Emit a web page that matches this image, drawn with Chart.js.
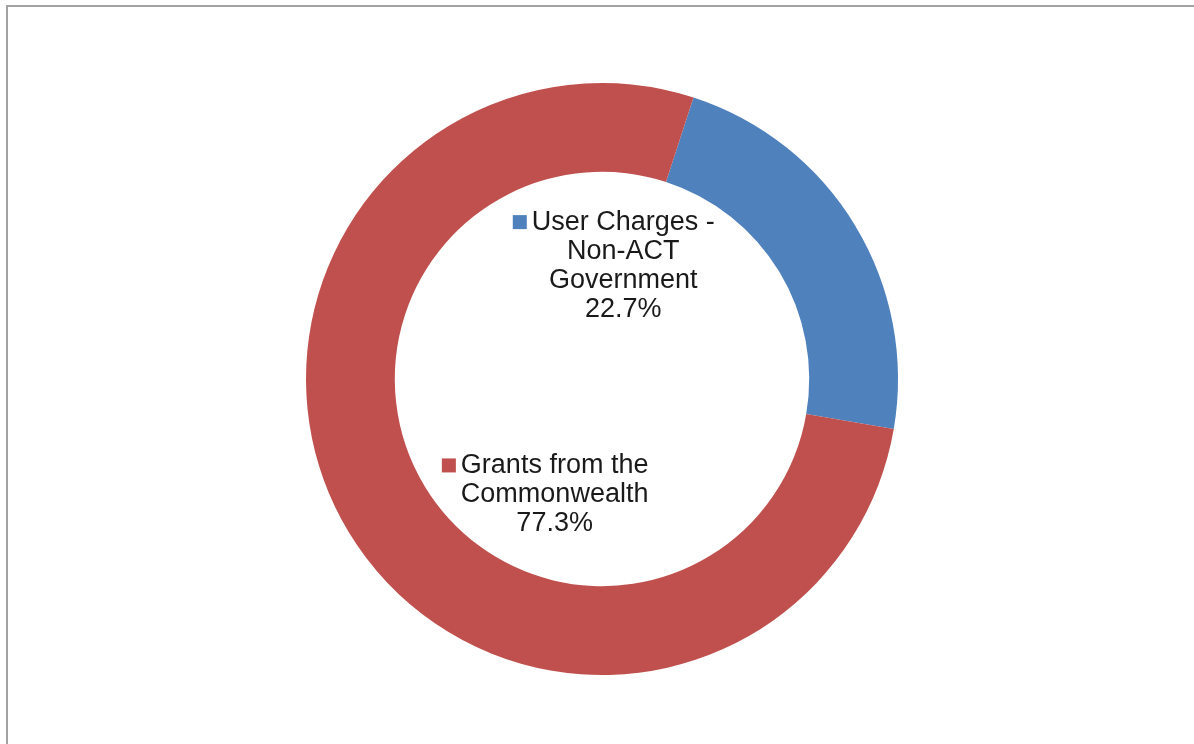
<!DOCTYPE html>
<html>
<head>
<meta charset="utf-8">
<script src="https://cdn.jsdelivr.net/npm/chart.js@4"></script>
<style>
  html, body { margin: 0; padding: 0; background: #fff; overflow: hidden; }
  #frame { position: absolute; left: 6px; top: 5px; width: 1200px; height: 760px; border: 2px solid #a3a3a3; box-sizing: border-box; }
  #wrap { position: absolute; left: 0; top: 0; width: 1194px; height: 744px; }
</style>
</head>
<body>
<div id="frame"></div>
<div id="wrap"><canvas id="myChart"></canvas></div>
<script>
const labels = ['User Charges - Non-ACT Government', 'Grants from the Commonwealth'];
const shares = [22.7, 77.3];
const colors = ['rgb(79, 129, 189)', 'rgb(192, 80, 77)'];

// label text lines, as wrapped in the original
const labelLines = [
  ['User Charges -', 'Non-ACT', 'Government'],
  ['Grants from the', 'Commonwealth']
];
// where each label block sits, relative to centre, in units of outer radius
const labelAnchor = [
  { dx: 0.072, dy: -0.53 },
  { dx: -0.16, dy: 0.292 }
];

const sliceLabels = {
  id: 'sliceLabels',
  afterDatasetsDraw(chart) {
    const ctx = chart.ctx;
    const arc = chart.getDatasetMeta(0).data[0];
    const cx = arc.x, cy = arc.y, r = arc.outerRadius;
    ctx.save();
    ctx.font = '27px "Liberation Sans", Arial, sans-serif';
    ctx.fillStyle = '#1a1a1a';
    ctx.textAlign = 'center';
    ctx.textBaseline = 'middle';
    const lh = 29;
    labelLines.forEach((lines, i) => {
      const x = cx + labelAnchor[i].dx * r;
      const y0 = cy + labelAnchor[i].dy * r;
      const all = lines.concat([shares[i].toFixed(1) + '%']);
      all.forEach((t, j) => {
        ctx.fillText(t, x, y0 + j * lh);
      });
      // colour key before the first line
      const w = ctx.measureText(lines[0]).width;
      ctx.fillStyle = colors[i];
      ctx.fillRect(x - w / 2 - 19, y0 - 7, 14, 14);
      ctx.fillStyle = '#1a1a1a';
    });
    ctx.restore();
  }
};

const ctx = document.getElementById('myChart').getContext('2d');

const config = {
  type: 'doughnut',
  data: {
    labels: labels,
    datasets: [{
      data: shares,
      backgroundColor: colors,
      borderColor: '#ffffff',
      borderWidth: 0
    }]
  },
  options: {
    responsive: true,
    maintainAspectRatio: false,
    animation: false,
    rotation: 18,
    cutout: '70%',
    layout: {
      padding: { top: 83, bottom: 69, left: 10, right: 0 }
    },
    plugins: {
      legend: { display: false },
      tooltip: { enabled: false }
    }
  },
  plugins: [sliceLabels]
};

var myChart = new Chart(ctx, config);
</script>
</body>
</html>
